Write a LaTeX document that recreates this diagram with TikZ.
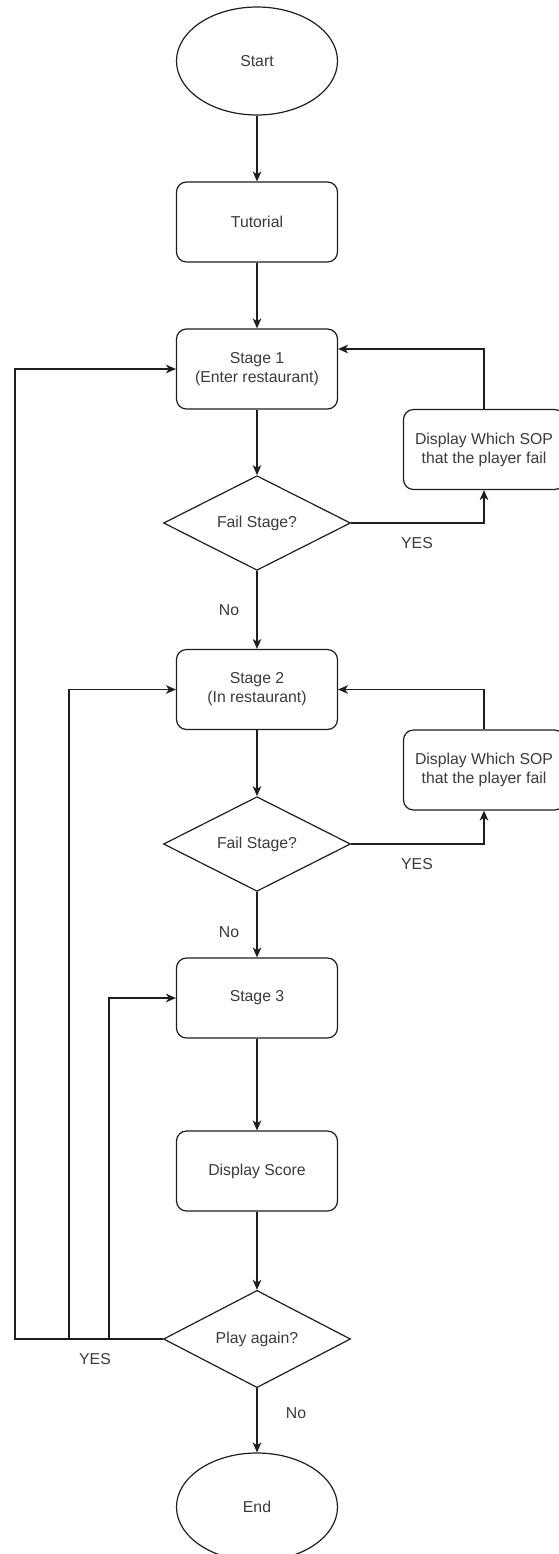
\documentclass[tikz,border=0pt]{standalone}
\usepackage{fontspec}
\setmainfont{Liberation Sans}
\usetikzlibrary{shapes.geometric,arrows.meta}
\definecolor{linecol}{HTML}{1E1E1E}
\definecolor{textcol}{HTML}{3A3A3A}
\newcommand{\flowfont}{\fontsize{11.85}{14.25}\selectfont}
\tikzset{
	box/.style={draw=linecol, rectangle, rounded corners=7.5pt, minimum width=120.75pt, minimum height=60pt, inner sep=0pt, align=center, text=textcol, font=\flowfont},
	terminal/.style={draw=linecol, ellipse, minimum width=120.75pt, minimum height=81pt, inner sep=0pt, text=textcol, font=\flowfont},
	decision/.style={draw=linecol, diamond, minimum width=140.25pt, minimum height=68.25pt, inner sep=0pt, text=textcol, font=\flowfont},
	answer/.style={inner sep=0pt, text=textcol, font=\flowfont},
	arr/.style={draw=linecol, -{Stealth[length=7.5pt, width=6.5pt, inset=2.2pt]}}
}
\begin{document}
\begin{tikzpicture}[x=0.75pt, y=-0.75pt, line width=0.9pt]
	\useasboundingbox (0, 0) rectangle (559, 1554);
	%開始
	\node[terminal] (start) at (257, 61) {Start};
	\node[box] (tutorial) at (257, 222) {Tutorial};
	%段階1
	\node[box] (stageone) at (257, 369) {Stage 1\\(Enter restaurant)};
	\node[decision] (failone) at (257, 523) {Fail Stage?};
	\node[box] (sopone) at (484, 449.5) {Display Which SOP\\that the player fail};
	%段階2
	\node[box] (stagetwo) at (257, 689.5) {Stage 2\\(In restaurant)};
	\node[decision] (failtwo) at (257, 844) {Fail Stage?};
	\node[box] (soptwo) at (484, 770) {Display Which SOP\\that the player fail};
	%段階3
	\node[box] (stagethree) at (257, 998) {Stage 3};
	\node[box] (score) at (257, 1171) {Display Score};
	\node[decision] (again) at (257, 1339) {Play again?};
	%終了
	\node[terminal] (finish) at (257, 1507) {End};
	%答え
	\node[answer] (noone) at (229, 610) {No};
	\node[answer] (yesone) at (417, 543) {YES};
	\node[answer] (notwo) at (229, 932) {No};
	\node[answer] (yestwo) at (417, 864) {YES};
	\node[answer] (yesthree) at (95, 1359) {YES};
	\node[answer] (nothree) at (296, 1413) {No};
	%本線
	\draw[arr] (start)--(tutorial);
	\draw[arr] (tutorial)--(stageone);
	\draw[arr] (stageone)--(failone);
	\draw[arr] (failone)--(stagetwo);
	\draw[arr] (stagetwo)--(failtwo);
	\draw[arr] (failtwo)--(stagethree);
	\draw[arr] (stagethree)--(score);
	\draw[arr] (score)--(again);
	\draw[arr] (again)--(finish);
	%失敗
	\draw[arr] (failone.east) -| (sopone.south);
	\draw[arr] (sopone.north) |- ([yshift=15pt]stageone.east);
	\draw[arr] (failtwo.east) -| (soptwo.south);
	\draw[arr] (soptwo.north) |- (stagetwo.east);
	%もう一度
	\path (15, 1339) coordinate (La);
	\path (69, 1339) coordinate (Lb);
	\path (109, 1339) coordinate (Lc);
	\draw[arr] (again.west)--(La) |- (stageone.west);
	\draw[arr] (Lb) |- (stagetwo.west);
	\draw[arr] (Lc) |- (stagethree.west);
\end{tikzpicture}
\end{document}
